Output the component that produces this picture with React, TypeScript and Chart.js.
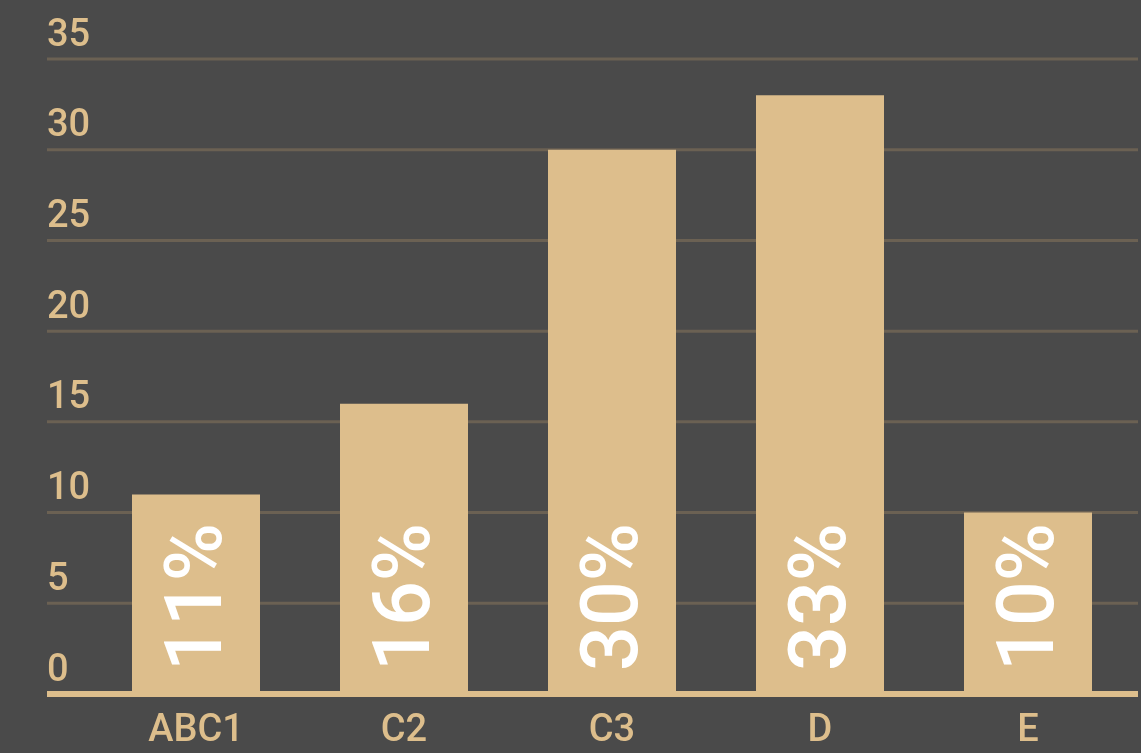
import React, { useEffect, useRef } from "react";
import { Chart, registerables } from "chart.js";

Chart.register(...registerables);

const categories = ["ABC1", "C2", "C3", "D", "E"];
const values = [11, 16, 30, 33, 10];
const valueLabels = ["11%", "16%", "30%", "33%", "10%"];

const BG = "#4a4a4a";
const TAN = "#ddbe8c";
const GRID = "#6b6153";

const overlayPlugin = {
  id: "overlay",
  beforeDatasetsDraw(chart: any) {
    const { ctx, chartArea, scales } = chart;
    const y = scales.y;
    ctx.save();
    ctx.strokeStyle = GRID;
    ctx.lineWidth = 3;
    y.ticks.forEach((t: any) => {
      if (t.value === 0) return;
      const py = y.getPixelForValue(t.value);
      ctx.beginPath();
      ctx.moveTo(chartArea.left - 45, py);
      ctx.lineTo(chartArea.right + 6, py);
      ctx.stroke();
    });
    ctx.restore();
  },
  afterDatasetsDraw(chart: any) {
    const { ctx, chartArea, scales } = chart;
    const y = scales.y;
    ctx.save();
    const py0 = y.getPixelForValue(0);
    ctx.fillStyle = TAN;
    ctx.fillRect(chartArea.left - 45, py0 - 3, chartArea.right + 6 - (chartArea.left - 45), 6);
    const meta = chart.getDatasetMeta(0);
    ctx.fillStyle = "#ffffff";
    ctx.font = "500 79px Roboto";
    ctx.textAlign = "left";
    ctx.textBaseline = "alphabetic";
    meta.data.forEach((bar: any, i: number) => {
      ctx.save();
      ctx.translate(bar.x + 25, py0 - 23);
      ctx.rotate(-Math.PI / 2);
      ctx.fillText(valueLabels[i], 0, 0);
      ctx.restore();
    });
    ctx.restore();
  },
};

export default function App() {
  const ref = useRef<HTMLCanvasElement | null>(null);
  useEffect(() => {
    if (!ref.current) return;
    const chart = new Chart(ref.current, {
      type: "bar",
      data: {
        labels: categories,
        datasets: [
          {
            data: values,
            backgroundColor: TAN,
            borderWidth: 0,
            categoryPercentage: 1,
            barPercentage: 128 / 208,
          },
        ],
      },
      options: {
        animation: false,
        responsive: true,
        maintainAspectRatio: false,
        layout: { padding: { left: 47, right: 9, top: 59, bottom: 0 } },
        plugins: { legend: { display: false }, tooltip: { enabled: false } },
        scales: {
          x: {
            grid: { display: false },
            border: { display: false },
            ticks: {
              color: TAN,
              font: { family: "Roboto", size: 38, weight: "500" },
              padding: 7,
              maxRotation: 0,
            },
            afterFit(scale: any) {
              scale.height = 59;
            },
          },
          y: {
            min: 0,
            max: 35,
            grid: { display: false },
            border: { display: false },
            ticks: {
              stepSize: 5,
              color: TAN,
              font: { family: "Roboto", size: 38, weight: "500" },
              crossAlign: "far",
              labelOffset: -23,
              padding: 0,
            },
            afterFit(scale: any) {
              scale.width = 45;
            },
          },
        },
      },
      plugins: [overlayPlugin],
    });
    return () => chart.destroy();
  }, []);
  return (
    <div
      style={{
        position: "fixed",
        left: 0,
        top: 0,
        width: "1141px",
        height: "753px",
        background: BG,
      }}
    >
      <canvas ref={ref} />
    </div>
  );
}
